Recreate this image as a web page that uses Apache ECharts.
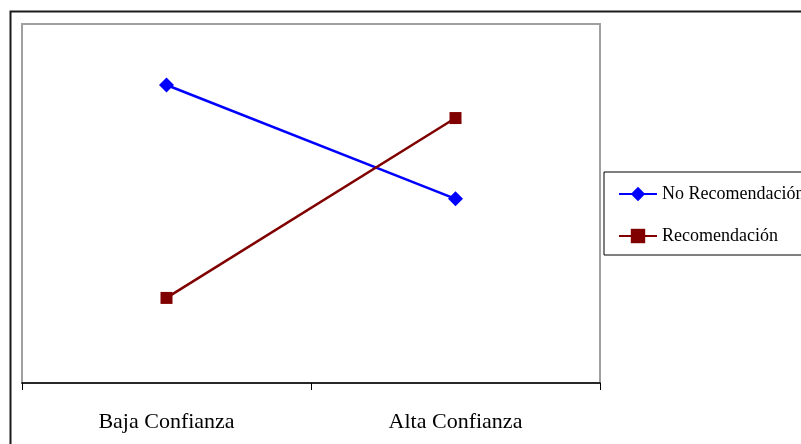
<!DOCTYPE html>
<html>
<head>
<meta charset="utf-8">
<script src="https://cdn.jsdelivr.net/npm/echarts@6/dist/echarts.min.js"></script>
<style>
  html, body { margin: 0; padding: 0; background: #fff; }
  #chart { width: 801px; height: 444px; }
</style>
</head>
<body>
<div id="chart"></div>
<script>
// Confidence levels on the horizontal axis
const categories = ['Baja Confianza', 'Alta Confianza'];
// Mean score per group (arbitrary scale 0–100)
const noRecomendacion = [83, 51.3];
const recomendacion = [23.7, 73.8];
const seriesNames = ['No Recomendación', 'Recomendación'];

const chart = echarts.init(document.getElementById('chart'));
const serif = '"Liberation Serif", "DejaVu Serif", serif';

chart.setOption({
  animation: false,
  backgroundColor: '#fff',
  graphic: [{
    type: 'rect',
    shape: { x: 10.5, y: 11.5, width: 820, height: 460 },
    style: { fill: 'none', stroke: '#1a1a1a', lineWidth: 2 },
    z: 100
  }],
  grid: {
    left: 22, right: 201, top: 24, bottom: 61,
    show: true, borderColor: '#a0a0a0', borderWidth: 2, backgroundColor: '#fff'
  },
  legend: {
    orient: 'vertical',
    left: 604, top: 172,
    data: seriesNames,
    itemWidth: 38, itemHeight: 18, itemGap: 24,
    padding: [13, 40, 10, 14],
    borderColor: '#000', borderWidth: 1,
    textStyle: { fontFamily: serif, fontSize: 18, color: '#000' }
  },
  xAxis: {
    type: 'category',
    data: categories,
    boundaryGap: true,
    axisLine: { lineStyle: { color: '#000', width: 1.5 } },
    axisTick: { show: true, length: 7, lineStyle: { color: '#000' } },
    axisLabel: { margin: 28, fontFamily: serif, fontSize: 22, color: '#000' },
    splitLine: { show: false }
  },
  yAxis: {
    type: 'value', min: 0, max: 100,
    show: false,
    splitLine: { show: false }
  },
  series: [
    {
      name: seriesNames[0], type: 'line', data: noRecomendacion,
      symbol: 'diamond', symbolSize: 15,
      lineStyle: { color: '#0000ff', width: 2.5 },
      itemStyle: { color: '#0000ff' }
    },
    {
      name: seriesNames[1], type: 'line', data: recomendacion,
      symbol: 'rect', symbolSize: 12,
      lineStyle: { color: '#800000', width: 2.5 },
      itemStyle: { color: '#800000' }
    }
  ]
});
</script>
</body>
</html>
